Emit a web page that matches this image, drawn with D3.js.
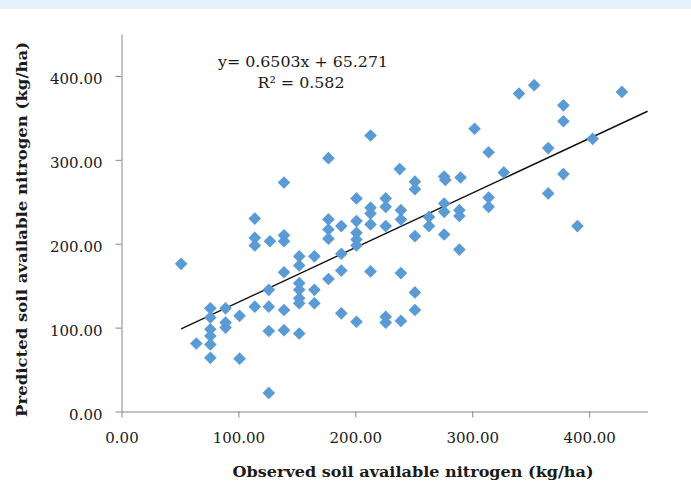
<!DOCTYPE html>
<html>
<head>
<meta charset="utf-8">
<script src="https://cdnjs.cloudflare.com/ajax/libs/d3/7.8.5/d3.min.js"></script>
<style>
    html, body { margin: 0; padding: 0; background: #ffffff; }
    svg { display: block; }
</style>
</head>
<body>
<div id="chart"></div>
<script>
// Observed vs predicted soil available nitrogen (kg/ha)
const observed = [
    51, 64, 76, 76, 76, 76, 76, 76, 89, 89, 89, 101, 101,
    114, 114, 114, 114, 127, 126, 126, 126, 126,
    139, 139, 139, 139, 139, 139,
    152, 152, 152, 152, 152, 152, 152, 165, 165, 165,
    177, 177, 177, 177, 177, 188, 188, 188, 188,
    201, 201, 201, 201, 201, 201, 213, 213, 213, 213, 213,
    226, 226, 226, 226, 226, 238, 239, 239, 239, 239,
    251, 251, 251, 251, 251, 263, 263,
    276, 277, 276, 276, 276, 290, 289, 289, 289,
    302, 314, 314, 314, 327, 340, 353, 365, 365,
    378, 378, 378, 390, 403, 428
];
const predicted = [
    176, 81, 123, 112, 98, 90, 80, 64, 123, 106, 100, 114, 63,
    230, 207, 198, 125, 203, 145, 125, 96, 22,
    273, 210, 203, 166, 121, 97,
    185, 174, 153, 145, 135, 129, 93, 185, 145, 129,
    302, 229, 217, 206, 158, 221, 188, 168, 117,
    254, 227, 213, 205, 198, 107, 329, 243, 236, 223, 167,
    254, 244, 221, 113, 106, 289, 240, 229, 165, 108,
    274, 265, 209, 142, 121, 232, 221,
    280, 276, 248, 238, 211, 279, 240, 233, 193,
    337, 309, 255, 244, 285, 379, 389, 314, 260,
    365, 346, 283, 221, 325, 381
];
const xTicks = [0, 100, 200, 300, 400];
const yTicks = [0, 100, 200, 300, 400];

// Linear trendline shown on the chart
const trendSlope = 0.6503;
const trendIntercept = 65.271;
const trendR2 = 0.582;

const width = 691;
const height = 497;
const serif = '"DejaVu Serif", "Liberation Serif", serif';

const svg = d3.select('#chart')
    .append('svg')
    .attr('width', width)
    .attr('height', height);

// light blue strip along the top
svg.append('rect')
    .attr('x', 0).attr('y', 0)
    .attr('width', width).attr('height', 9)
    .attr('fill', '#e4f1fb');

const xScale = d3.scaleLinear().domain([0, 450]).range([121.5, 647.6]);
const yScale = d3.scaleLinear().domain([0, 450]).range([411.5, 34]);

const fmt = d3.format('.2f');

// X axis
const xAxis = svg.append('g')
    .attr('transform', `translate(0,${yScale(0)})`)
    .call(d3.axisBottom(xScale)
        .tickValues(xTicks)
        .tickFormat(fmt)
        .tickSize(6)
        .tickSizeOuter(0)
        .tickPadding(15));

// Y axis
const yAxis = svg.append('g')
    .attr('transform', `translate(${xScale(0)},0)`)
    .call(d3.axisLeft(yScale)
        .tickValues(yTicks)
        .tickFormat(fmt)
        .tickSize(6)
        .tickSizeOuter(0)
        .tickPadding(13));

[xAxis, yAxis].forEach(g => {
    g.select('.domain').attr('stroke', '#868686');
    g.selectAll('.tick line').attr('stroke', '#868686');
    g.selectAll('.tick text')
        .style('font-family', serif)
        .style('font-size', '15px')
        .attr('fill', '#1a1a1a');
});
yAxis.selectAll('.tick text').attr('dy', '0.5em');

// Trendline from smallest observation to the end of the axis
const x0 = d3.min(observed);
const x1 = xScale.domain()[1];
svg.append('line')
    .attr('x1', xScale(x0))
    .attr('y1', yScale(trendSlope * x0 + trendIntercept))
    .attr('x2', xScale(x1))
    .attr('y2', yScale(trendSlope * x1 + trendIntercept))
    .attr('stroke', '#111')
    .attr('stroke-width', 1.4);

// Points as diamonds (rotated squares)
const diamond = d3.symbol().type(d3.symbolSquare).size(80);
svg.selectAll('.pt')
    .data(observed.map((d, i) => [d, predicted[i]]))
    .enter()
    .append('path')
    .attr('class', 'pt')
    .attr('d', diamond)
    .attr('transform', d => `translate(${xScale(d[0])},${yScale(d[1])}) rotate(45)`)
    .attr('fill', '#5b9bd5');

// Equation label
svg.append('text')
    .attr('x', 303).attr('y', 67)
    .attr('text-anchor', 'middle')
    .attr('textLength', 170)
    .attr('lengthAdjust', 'spacingAndGlyphs')
    .style('font-family', serif)
    .style('font-size', '15px')
    .attr('fill', '#1a1a1a')
    .text(`y= ${trendSlope}x + ${trendIntercept}`);

svg.append('text')
    .attr('x', 301).attr('y', 88)
    .attr('text-anchor', 'middle')
    .attr('textLength', 87)
    .attr('lengthAdjust', 'spacingAndGlyphs')
    .style('font-family', serif)
    .style('font-size', '15px')
    .attr('fill', '#1a1a1a')
    .text(`R² = ${trendR2}`);

// Axis titles
svg.append('text')
    .attr('x', 413).attr('y', 477)
    .attr('text-anchor', 'middle')
    .attr('textLength', 361)
    .attr('lengthAdjust', 'spacingAndGlyphs')
    .style('font-family', serif)
    .style('font-size', '15px')
    .style('font-weight', 'bold')
    .attr('fill', '#1a1a1a')
    .text('Observed soil available nitrogen (kg/ha)');

svg.append('text')
    .attr('transform', 'translate(27,229.5) rotate(-90)')
    .attr('text-anchor', 'middle')
    .attr('textLength', 375)
    .attr('lengthAdjust', 'spacingAndGlyphs')
    .style('font-family', serif)
    .style('font-size', '15px')
    .style('font-weight', 'bold')
    .attr('fill', '#1a1a1a')
    .text('Predicted soil available nitrogen  (kg/ha)');
</script>
</body>
</html>
